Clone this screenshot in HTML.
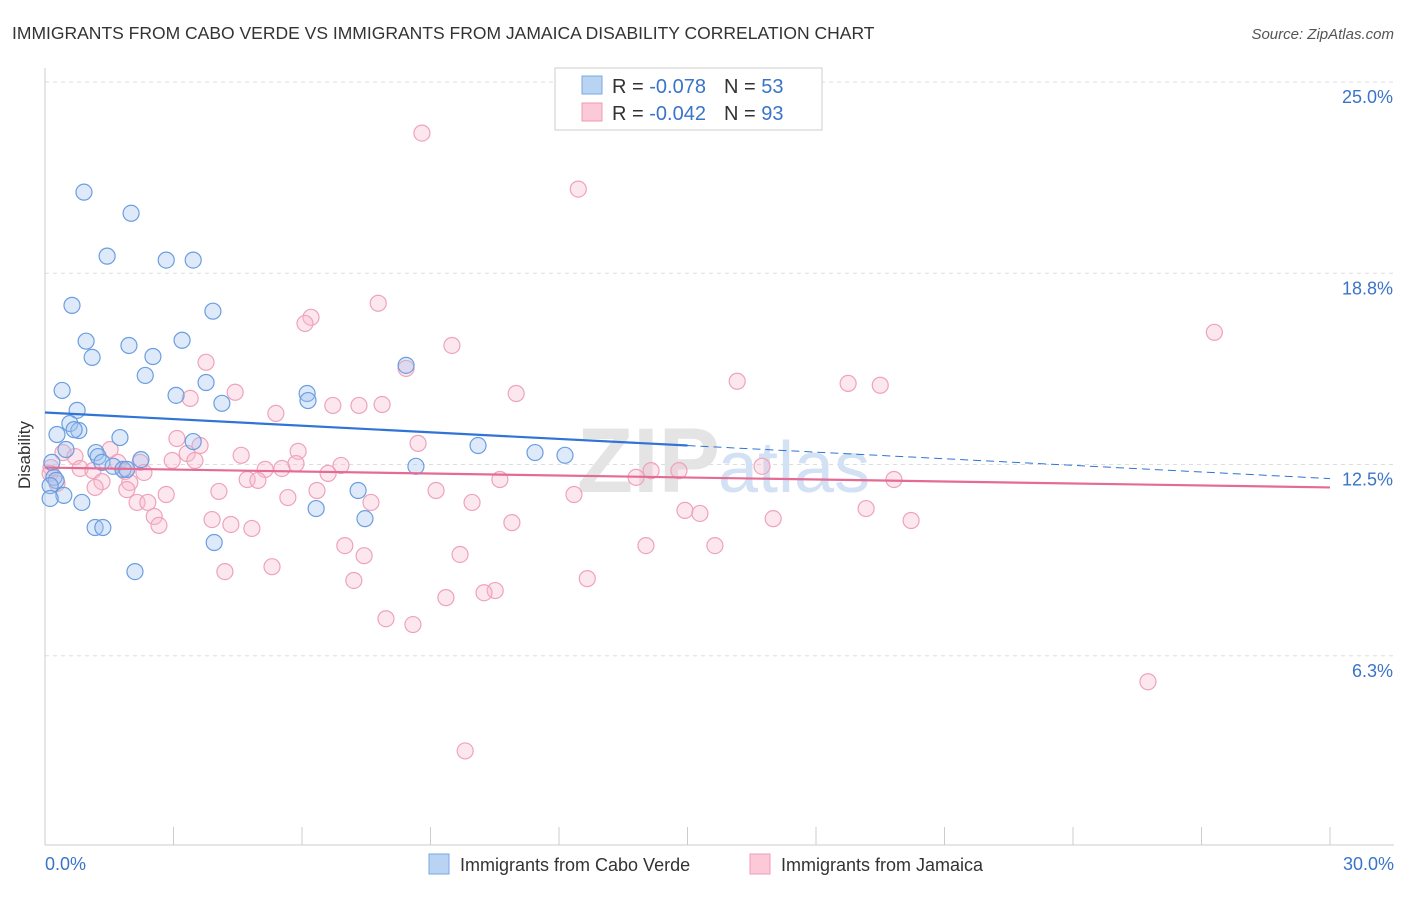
<!DOCTYPE html>
<html><head><meta charset="utf-8"><style>
body{margin:0;background:#fff;font-family:"Liberation Sans",sans-serif;}
svg text{font-family:"Liberation Sans",sans-serif;}
</style></head><body>
<svg id="chart" width="1406" height="892" viewBox="0 0 1406 892" xmlns="http://www.w3.org/2000/svg">
<text x="12" y="39" font-size="17.5" fill="#333">IMMIGRANTS FROM CABO VERDE VS IMMIGRANTS FROM JAMAICA DISABILITY CORRELATION CHART</text>
<text x="1394" y="39" font-size="15" fill="#555" font-style="italic" text-anchor="end">Source: ZipAtlas.com</text>
<text x="30" y="455" font-size="17" fill="#333" text-anchor="middle" transform="rotate(-90 30 455)">Disability</text>
<g id="grid"></g>
<g id="yticks"></g>
<line x1="45" y1="845" x2="1394" y2="845" stroke="#ccc" stroke-width="1"/>
<line x1="45" y1="68" x2="45" y2="845" stroke="#ccc" stroke-width="1"/>
<g id="xticks"></g>
<text x="45" y="870" font-size="18" fill="#3a74c9">0.0%</text>
<text x="1394" y="870" font-size="18" fill="#3a74c9" text-anchor="end">30.0%</text>
<text x="720" y="492" font-size="92" font-weight="bold" fill="#e4e4e4" text-anchor="end" font-family="Liberation Serif">ZIP</text>
<text x="718" y="492" font-size="72" fill="#d2e1f3">atlas</text>
<g id="pink"></g>
<g id="blue"></g>
<g id="trends"></g>
<g>
<rect x="555" y="68" width="267" height="62" fill="#fff" stroke="#ccc"/>
<rect x="582" y="76" width="20" height="18" fill="#b9d3f3" stroke="#7aa7e3"/>
<rect x="582" y="103" width="20" height="18" fill="#fbc9d8" stroke="#ef9bb5"/>
<text x="612" y="93" font-size="20" fill="#333">R = <tspan fill="#3a74c9">-0.078</tspan><tspan dx="18">N = </tspan><tspan fill="#3a74c9">53</tspan></text>
<text x="612" y="120" font-size="20" fill="#333">R = <tspan fill="#3a74c9">-0.042</tspan><tspan dx="18">N = </tspan><tspan fill="#3a74c9">93</tspan></text>
</g>
<g>
<rect x="429" y="854" width="20" height="20" fill="#b9d3f3" stroke="#7aa7e3"/>
<text x="460" y="871" font-size="18" fill="#333">Immigrants from Cabo Verde</text>
<rect x="750" y="854" width="20" height="20" fill="#fbc9d8" stroke="#ef9bb5"/>
<text x="781" y="871" font-size="18" fill="#333">Immigrants from Jamaica</text>
</g>
</svg>
<script>
const yTickValues=[25,18.75,12.5,6.25];
const yTickLabels=["25.0%","18.8%","12.5%","6.3%"];
const xTickValues=[0,3,6,9,12,15,18,21,24,27,30];
const blueX=[0.91,2.01,1.45,2.83,3.46,0.63,3.92,0.96,1.96,3.20,1.10,2.52,2.34,3.76,0.40,3.06,4.13,6.12,6.14,0.75,0.58,0.79,0.28,1.75,0.68,3.46,0.49,1.19,1.24,2.24,1.33,0.16,1.59,1.82,1.91,8.66,8.43,10.11,11.44,12.14,0.21,0.26,0.12,7.31,0.44,0.12,0.86,6.33,7.47,1.17,1.35,3.95,2.10];
const blueY=[21.40,20.71,19.31,19.18,19.18,17.70,17.51,16.53,16.39,16.56,16.00,16.03,15.41,15.18,14.92,14.76,14.50,14.82,14.59,14.27,13.84,13.61,13.48,13.38,13.64,13.25,12.99,12.89,12.76,12.66,12.57,12.57,12.44,12.34,12.34,12.44,15.74,13.12,12.89,12.80,12.08,11.98,11.81,11.65,11.49,11.39,11.26,11.06,10.73,10.44,10.44,9.95,9.00];
const pinkX=[8.80,12.45,7.78,6.21,6.07,27.30,9.50,3.76,8.43,16.16,18.75,19.50,4.44,11.00,3.39,6.72,7.33,7.87,5.39,3.08,3.62,8.71,5.91,4.58,3.32,1.52,0.42,0.70,2.97,3.50,1.70,2.22,5.86,6.91,0.14,0.82,1.12,2.31,5.14,5.53,14.15,14.80,16.74,0.12,1.87,13.80,6.61,10.62,19.82,4.72,4.97,1.33,1.98,0.28,1.17,1.91,6.35,9.13,4.06,2.83,5.67,12.35,2.15,2.40,7.61,9.97,19.17,14.94,15.29,2.55,3.90,2.66,4.34,4.83,10.90,17.00,20.22,7.00,14.03,15.64,9.69,7.45,5.30,4.20,7.21,12.66,10.51,10.25,9.36,7.96,8.59,25.75,9.81];
const pinkY=[23.33,21.50,17.77,17.31,17.11,16.82,16.39,15.84,15.64,15.22,15.15,15.09,14.86,14.82,14.66,14.43,14.43,14.46,14.17,13.35,13.12,13.19,12.93,12.80,12.86,12.99,12.89,12.76,12.63,12.63,12.57,12.57,12.53,12.47,12.40,12.37,12.30,12.24,12.34,12.37,12.30,12.30,12.44,12.21,12.27,12.08,12.21,12.01,12.01,12.01,11.98,11.94,11.91,11.88,11.75,11.68,11.65,11.65,11.62,11.52,11.42,11.52,11.26,11.26,11.26,11.26,11.06,11.00,10.90,10.80,10.70,10.51,10.54,10.41,10.60,10.73,10.67,9.85,9.85,9.85,9.56,9.52,9.16,9.00,8.71,8.77,8.38,8.31,8.15,7.46,7.27,5.40,3.14];
const blueTrend=[14.20,12.04];
const pinkTrend=[12.40,11.75];
const NS="http://www.w3.org/2000/svg";
const xs=v=>45+v/30*1285;
const ys=v=>82+(25-v)*30.6;
function mk(tag,attrs,parent){const e=document.createElementNS(NS,tag);for(const k in attrs)e.setAttribute(k,attrs[k]);parent.appendChild(e);return e;}
const grid=document.getElementById('grid'),yt=document.getElementById('yticks'),xt=document.getElementById('xticks');
yTickValues.forEach((v,i)=>{
 const l=mk('line',{x1:45,x2:1394,y1:ys(v),y2:ys(v),stroke:'#ddd','stroke-dasharray':'4 4'},grid);
 
 
 const t=mk('text',{x:1393,y:ys(v)+21,'font-size':18,fill:'#3a74c9','text-anchor':'end'},yt);
 t.textContent=yTickLabels[i];
 
 
});
xTickValues.forEach(v=>{
 const l=mk('line',{x1:xs(v),x2:xs(v),y1:827,y2:845,stroke:'#ccc'},xt);
 
 
});
function dots(X,Y,g,fill,stroke,name){X.forEach((x,i)=>{
 const c=mk('circle',{cx:xs(x),cy:ys(Y[i]),r:8,fill:fill,stroke:stroke,'stroke-width':1.2},g);
 
 
});}
dots(pinkX,pinkY,document.getElementById('pink'),'rgba(248,185,205,0.35)','#eea3bb','jamaica-point');
dots(blueX,blueY,document.getElementById('blue'),'rgba(160,196,240,0.35)','#6a9ee0','cabo-verde-point');
const tr=document.getElementById('trends');
const bAt=v=>blueTrend[0]+(blueTrend[1]-blueTrend[0])*v/30;
let l1=mk('line',{x1:xs(0),y1:ys(bAt(0)),x2:xs(15),y2:ys(bAt(15)),stroke:'#2f74d6','stroke-width':2.2},tr);


let l2=mk('line',{x1:xs(15),y1:ys(bAt(15)),x2:xs(30),y2:ys(bAt(30)),stroke:'#2f74d6','stroke-width':1,'stroke-dasharray':'8 5'},tr);


let l3=mk('line',{x1:xs(0),y1:ys(pinkTrend[0]),x2:xs(30),y2:ys(pinkTrend[1]),stroke:'#e46b94','stroke-width':2.2},tr);


</script>
</body></html>
